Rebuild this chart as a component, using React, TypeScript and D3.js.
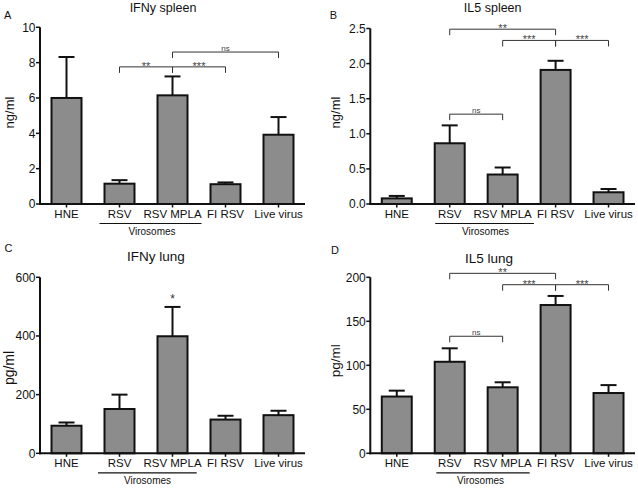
import React from "react";
import * as d3 from "d3";

const categories = ["HNE", "RSV", "RSV MPLA", "FI RSV", "Live virus"];

const ifnSpleenMean = [6.0, 1.15, 6.15, 1.12, 3.92];
const ifnSpleenSem = [2.32, 0.2, 1.07, 0.1, 1.0];
const ifnSpleenTicks = [0, 2, 4, 6, 8, 10];

const il5SpleenMean = [0.08, 0.865, 0.42, 1.91, 0.167];
const il5SpleenSem = [0.035, 0.255, 0.1, 0.13, 0.047];
const il5SpleenTicks = [0, 0.5, 1.0, 1.5, 2.0, 2.5];

const ifnLungMean = [94, 151, 399, 115, 130];
const ifnLungSem = [11, 49, 100, 13, 15];
const ifnLungTicks = [0, 200, 400, 600];

const il5LungMean = [64.5, 104, 75, 168.5, 68.5];
const il5LungSem = [6.7, 15.3, 5.7, 10.3, 9];
const il5LungTicks = [0, 50, 100, 150, 200];

type Bracket = { from: number; to: number; label: string; level: number };

const ifnSpleenBrackets: Bracket[] = [
  { from: 1, to: 2, label: "**", level: 7.76 },
  { from: 2, to: 3, label: "***", level: 7.76 },
  { from: 2, to: 4, label: "ns", level: 8.6 },
];
const il5SpleenBrackets: Bracket[] = [
  { from: 1, to: 3, label: "**", level: 2.49 },
  { from: 2, to: 3, label: "***", level: 2.33 },
  { from: 3, to: 4, label: "***", level: 2.33 },
  { from: 1, to: 2, label: "ns", level: 1.28 },
];
const ifnLungStars = [{ index: 2, label: "*", level: 512 }];
const il5LungBrackets: Bracket[] = [
  { from: 1, to: 3, label: "**", level: 204.5 },
  { from: 2, to: 3, label: "***", level: 191.6 },
  { from: 3, to: 4, label: "***", level: 191.6 },
  { from: 1, to: 2, label: "ns", level: 133 },
];

const FONT = "'Liberation Sans', Arial, Helvetica, sans-serif";

type PanelCfg = {
  letter: string;
  letterX: number;
  letterY: number;
  title: string;
  titleX: number;
  titleY: number;
  titleSize: number;
  x0: number;
  x1: number;
  yTop: number;
  yBot: number;
  ticks: number[];
  fmt: (v: number) => string;
  ylabel: string;
  ylabelX: number;
  ylabelY: number;
  ylabelSize: number;
  means: number[];
  sems: number[];
  brackets: Bracket[];
  stars?: { index: number; label: string; level: number }[];
  ulFrom: number;
  ulTo: number;
  viroX: number;
};

const panels: PanelCfg[] = [
  {
    letter: "A", letterX: 4, letterY: 19.3,
    title: "IFNy spleen", titleX: 163, titleY: 11.5, titleSize: 12.5,
    x0: 40, x1: 305, yTop: 27.3, yBot: 204,
    ticks: ifnSpleenTicks, fmt: d3.format("d"),
    ylabel: "ng/ml", ylabelX: 14, ylabelY: 112.5, ylabelSize: 13,
    means: ifnSpleenMean, sems: ifnSpleenSem, brackets: ifnSpleenBrackets,
    ulFrom: -20, ulTo: 29, viroX: 152,
  },
  {
    letter: "B", letterX: 329.7, letterY: 19.3,
    title: "IL5 spleen", titleX: 492.7, titleY: 11.5, titleSize: 12.5,
    x0: 370.3, x1: 635, yTop: 28.5, yBot: 204,
    ticks: il5SpleenTicks, fmt: d3.format(".1f"),
    ylabel: "ng/ml", ylabelX: 340, ylabelY: 112.5, ylabelSize: 13,
    means: il5SpleenMean, sems: il5SpleenSem, brackets: il5SpleenBrackets,
    ulFrom: -14.5, ulTo: 31.3, viroX: 485.5,
  },
  {
    letter: "C", letterX: 4.5, letterY: 252.3,
    title: "IFNy lung", titleX: 156, titleY: 260.5, titleSize: 13.5,
    x0: 40, x1: 305, yTop: 277.3, yBot: 453.3,
    ticks: ifnLungTicks, fmt: d3.format("d"),
    ylabel: "pg/ml", ylabelX: 14, ylabelY: 368, ylabelSize: 14,
    means: ifnLungMean, sems: ifnLungSem, brackets: [], stars: ifnLungStars,
    ulFrom: -21.5, ulTo: 24.2, viroX: 147.5,
  },
  {
    letter: "D", letterX: 331, letterY: 254,
    title: "IL5 lung", titleX: 489, titleY: 263.3, titleSize: 13.5,
    x0: 370.3, x1: 635, yTop: 277.3, yBot: 453.3,
    ticks: il5LungTicks, fmt: d3.format("d"),
    ylabel: "pg/ml", ylabelX: 340, ylabelY: 360.7, ylabelSize: 13.5,
    means: il5LungMean, sems: il5LungSem, brackets: il5LungBrackets,
    ulFrom: -13.4, ulTo: 27, viroX: 480.5,
  },
];

const BAR_FILL = "#8c8c8c";

function Panel({ p }: { p: PanelCfg }) {
  const pad = 0.434;
  const x = d3
    .scaleBand<string>()
    .domain(categories)
    .range([p.x0, p.x1])
    .paddingInner(pad)
    .paddingOuter(pad / 2);
  const y = d3
    .scaleLinear()
    .domain([0, p.ticks[p.ticks.length - 1]])
    .range([p.yBot, p.yTop]);
  const cx = (i: number) => (x(categories[i]) as number) + x.bandwidth() / 2;
  const tick = 6;

  return (
    <g fontFamily={FONT}>
      <text x={p.letterX} y={p.letterY} fontSize={11} fill="#111">
        {p.letter}
      </text>
      <text x={p.titleX} y={p.titleY} fontSize={p.titleSize} textAnchor="middle" fill="#111">
        {p.title}
      </text>
      <text
        transform={`translate(${p.ylabelX},${p.ylabelY}) rotate(-90)`}
        fontSize={p.ylabelSize}
        textAnchor="middle"
        fill="#111"
      >
        {p.ylabel}
      </text>

      {/* bars */}
      {p.means.map((m, i) => {
        const top = y(m + p.sems[i]);
        return (
          <g key={i}>
            <line x1={cx(i)} x2={cx(i)} y1={y(m)} y2={top} stroke="#111" strokeWidth={2} />
            <line x1={cx(i) - 8} x2={cx(i) + 8} y1={top} y2={top} stroke="#111" strokeWidth={2} />
            <rect
              x={x(categories[i])}
              y={y(m)}
              width={x.bandwidth()}
              height={p.yBot - y(m)}
              fill={BAR_FILL}
              stroke="#111"
              strokeWidth={2}
            />
          </g>
        );
      })}

      {/* y axis */}
      <line x1={p.x0} x2={p.x0} y1={p.yTop} y2={p.yBot + 1} stroke="#111" strokeWidth={2} />
      {p.ticks.map((t) => (
        <g key={t}>
          <line x1={p.x0 - 4} x2={p.x0} y1={y(t)} y2={y(t)} stroke="#111" strokeWidth={1.5} />
          <text x={p.x0 - 4.5} y={y(t)} dy="0.36em" fontSize={12} textAnchor="end" fill="#111">
            {p.fmt(t)}
          </text>
        </g>
      ))}

      {/* x axis */}
      <line x1={p.x0 - 1} x2={p.x1} y1={p.yBot} y2={p.yBot} stroke="#111" strokeWidth={2} />
      {categories.map((c, i) => (
        <g key={c}>
          <line x1={cx(i)} x2={cx(i)} y1={p.yBot} y2={p.yBot + 3.5} stroke="#111" strokeWidth={1.5} />
          <text x={cx(i)} y={p.yBot + 14} fontSize={11.5} textAnchor="middle" fill="#111">
            {c}
          </text>
        </g>
      ))}
      <line
        x1={cx(1) + p.ulFrom}
        x2={cx(2) + p.ulTo}
        y1={p.yBot + 19.5}
        y2={p.yBot + 19.5}
        stroke="#111"
        strokeWidth={1.2}
      />
      <text x={p.viroX} y={p.yBot + 31} fontSize={10} textAnchor="middle" fill="#111">
        Virosomes
      </text>

      {/* significance brackets */}
      {p.brackets.map((b, k) => {
        const ly = y(b.level);
        const xa = cx(b.from);
        const xb = cx(b.to);
        const isNs = b.label === "ns";
        return (
          <g key={k}>
            <path
              d={`M${xa},${ly + tick}V${ly}H${xb}V${ly + tick}`}
              fill="none"
              stroke="#333"
              strokeWidth={1}
            />
            <text
              x={(xa + xb) / 2}
              y={isNs ? ly - 1.5 : ly + 3}
              fontSize={isNs ? 8 : 11}
              textAnchor="middle"
              fill="#444"
            >
              {b.label}
            </text>
          </g>
        );
      })}
      {(p.stars || []).map((s, k) => (
        <text key={k} x={cx(s.index)} y={y(s.level)} fontSize={12} textAnchor="middle" fill="#333">
          {s.label}
        </text>
      ))}
    </g>
  );
}

export default function App() {
  return (
    <svg
      width={638}
      height={488}
      viewBox="0 0 638 488"
      style={{ position: "absolute", left: 0, top: 0, background: "#fff" }}
    >
      <rect width={638} height={488} fill="#fff" />
      {panels.map((p) => (
        <Panel key={p.letter} p={p} />
      ))}
    </svg>
  );
}
